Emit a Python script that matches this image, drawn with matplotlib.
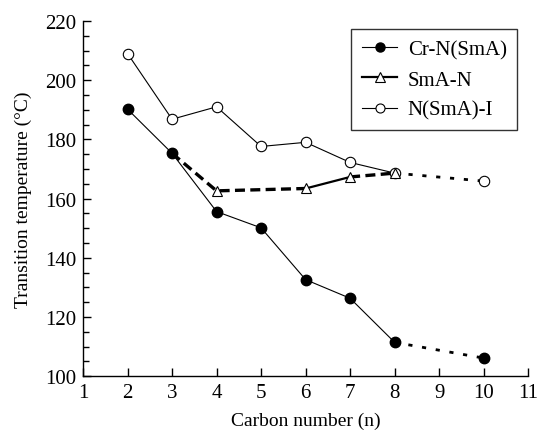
import matplotlib
matplotlib.use("Agg")
import matplotlib.pyplot as plt
from matplotlib.ticker import MultipleLocator
from matplotlib.lines import Line2D

plt.rcParams['font.family'] = ['Liberation Serif', 'DejaVu Serif']

n_cr = [2, 3, 4, 5, 6, 7, 8, 10]
cr_n = [190.2, 175.3, 155.6, 150.1, 132.6, 126.3, 111.4, 106.1]

n_sman = [3, 4, 6, 7, 8]
sma_n = [175.3, 162.6, 163.4, 167.3, 168.6]

n_ni = [2, 3, 4, 5, 6, 7, 8, 10]
n_i = [209.0, 186.8, 191.0, 177.6, 179.0, 172.2, 168.6, 165.9]

xticks = list(range(1, 12))
yticks = list(range(100, 221, 20))

fig = plt.figure(figsize=(5.39, 4.31), dpi=100)
ax = fig.add_axes([0.154, 0.125, 0.826, 0.824])

thin = 0.8
# Cr-N(SmA): solid to n=8, dotted to n=10
ax.plot(n_cr[:7], cr_n[:7], color='black', lw=thin, zorder=2)
ax.plot(n_cr[6:], cr_n[6:], color='black', lw=2.0, ls=(0, (1.5, 3.5)), zorder=2)
# N(SmA)-I
ax.plot(n_ni[:7], n_i[:7], color='black', lw=thin, zorder=2)
ax.plot(n_ni[6:], n_i[6:], color='black', lw=2.0, ls=(0, (1.5, 3.5)), zorder=2)
# SmA-N: dashed 3-6, solid 6-7, dashed 7-8
ax.plot(n_sman[:3], sma_n[:3], color='black', lw=2.4, ls=(0, (3.0, 1.6)), zorder=2)
ax.plot(n_sman[2:4], sma_n[2:4], color='black', lw=1.6, zorder=2)
ax.plot(n_sman[3:], sma_n[3:], color='black', lw=2.4, ls=(0, (3.0, 1.6)), zorder=2)

ms = 7.5
ax.plot(n_cr, cr_n, ls='none', marker='o', ms=ms, mfc='black', mec='black', zorder=4)
ax.plot(n_sman[1:], sma_n[1:], ls='none', marker='^', ms=ms, mfc='white', mec='black', mew=0.8, zorder=4)
ax.plot(n_ni, n_i, ls='none', marker='o', ms=ms, mfc='white', mec='black', mew=0.8, zorder=3)

ax.set_xlim(1, 11)
ax.set_ylim(100, 220)
ax.set_xticks(xticks)
ax.set_yticks(yticks)
ax.yaxis.set_minor_locator(MultipleLocator(5))
ax.tick_params(axis='both', which='both', direction='in', labelsize=15, width=1.0)
ax.tick_params(axis='both', which='major', length=6, pad=5)
ax.tick_params(axis='y', which='minor', length=4)
ax.tick_params(axis='x', which='minor', length=0)
for s in ['top', 'right']:
    ax.spines[s].set_visible(False)
for s in ['left', 'bottom']:
    ax.spines[s].set_linewidth(1.0)

ax.set_xlabel('Carbon number (n)', fontsize=14, labelpad=7)
ax.set_ylabel('Transition temperature (°C)', fontsize=14, labelpad=9)

lms = 6.5
handles = [
    Line2D([], [], color='black', lw=thin, marker='o', ms=lms, mfc='black', mec='black'),
    Line2D([], [], color='black', lw=1.6, marker='^', ms=lms, mfc='white', mec='black', mew=0.8),
    Line2D([], [], color='black', lw=thin, marker='o', ms=lms, mfc='white', mec='black', mew=0.8),
]
leg = ax.legend(handles, ['Cr-N(SmA)', 'SmA-N', 'N(SmA)-I'], loc='upper right',
                bbox_to_anchor=(0.975, 0.977), borderaxespad=0, fontsize=15,
                frameon=True, fancybox=False, edgecolor='black', handlelength=1.7,
                handletextpad=0.5, borderpad=0.5, labelspacing=0.52)
leg.get_frame().set_linewidth(1.0)

fig.savefig('out.png', dpi=100)
